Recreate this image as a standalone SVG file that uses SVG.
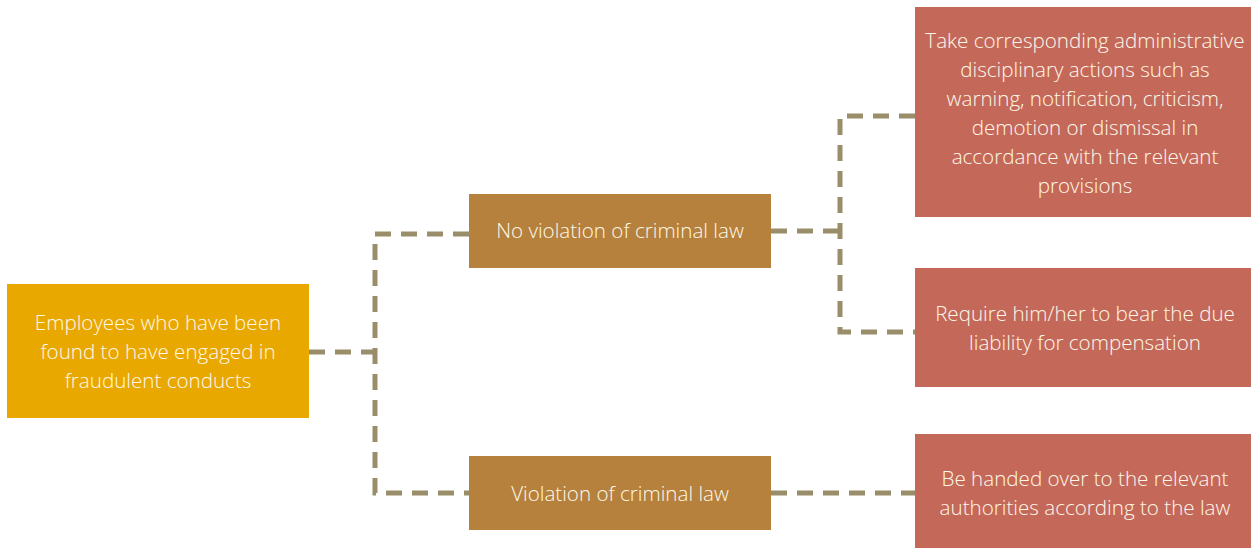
<svg xmlns="http://www.w3.org/2000/svg" width="1251" height="549" viewBox="0 0 1251 549">
<style>
.t{font-family:"Open Sans","Liberation Sans",sans-serif;font-weight:300;font-size:20.6px;fill:#FFF8E8;text-anchor:middle;dominant-baseline:central}
.c{fill:none;stroke:#9A8E6A;stroke-width:5;stroke-dasharray:16 10}
</style>
<rect width="1251" height="549" fill="#FFFFFF"/>
<g id="connectors">
<path class="c" d="M309 352H375"/>
<path class="c" d="M469 234H375V493H469"/>
<path class="c" d="M771 231H840"/>
<path class="c" d="M915 116H840V332H915"/>
<path class="c" d="M771 493H915"/>
</g>
<g id="root">
<rect x="7" y="284" width="302" height="134" fill="#E9A800"/>
<text class="t" x="158" y="322">Employees who have been</text>
<text class="t" x="158" y="351">found to have engaged in</text>
<text class="t" x="158" y="380">fraudulent conducts</text>
</g>
<g id="no-violation">
<rect x="469" y="194" width="302" height="74" fill="#B5813C"/>
<text class="t" x="620" y="230">No violation of criminal law</text>
</g>
<g id="violation">
<rect x="469" y="456" width="302" height="74" fill="#B5813C"/>
<text class="t" x="620" y="493">Violation of criminal law</text>
</g>
<g id="disciplinary">
<rect x="915" y="7" width="336" height="210" fill="#C4695A"/>
<text class="t" x="1085" y="40">Take corresponding administrative</text>
<text class="t" x="1085" y="69">disciplinary actions such as</text>
<text class="t" x="1085" y="98">warning, notification, criticism,</text>
<text class="t" x="1085" y="127">demotion or dismissal in</text>
<text class="t" x="1085" y="156">accordance with the relevant</text>
<text class="t" x="1085" y="185">provisions</text>
</g>
<g id="compensation">
<rect x="915" y="268" width="336" height="119" fill="#C4695A"/>
<text class="t" x="1085" y="313">Require him/her to bear the due</text>
<text class="t" x="1085" y="342">liability for compensation</text>
</g>
<g id="authorities">
<rect x="915" y="434" width="336" height="114" fill="#C4695A"/>
<text class="t" x="1085" y="478">Be handed over to the relevant</text>
<text class="t" x="1085" y="507">authorities according to the law</text>
</g>
</svg>
